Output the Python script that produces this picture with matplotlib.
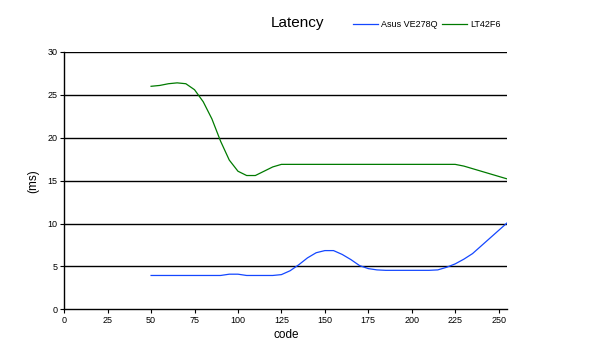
import matplotlib.pyplot as plt
import numpy as np

plt.rcParams["font.family"] = ["Liberation Sans", "DejaVu Sans"]

# data
codes = list(range(50, 256, 5))
asus_ve278q = [
    3.95, 3.95, 3.95, 3.95, 3.95, 3.95, 3.95, 3.95, 3.95, 4.1,
    4.1, 3.95, 3.95, 3.95, 3.95, 4.05, 4.5, 5.2, 6.0, 6.6,
    6.85, 6.85, 6.4, 5.8, 5.1, 4.75, 4.6, 4.55, 4.55, 4.55,
    4.55, 4.55, 4.55, 4.6, 4.9, 5.3, 5.85, 6.5, 7.4, 8.3,
    9.2, 10.1,
]
lt42f6 = [
    26.0, 26.1, 26.3, 26.4, 26.3, 25.6, 24.2, 22.2, 19.6, 17.4,
    16.1, 15.6, 15.6, 16.1, 16.6, 16.9, 16.9, 16.9, 16.9, 16.9,
    16.9, 16.9, 16.9, 16.9, 16.9, 16.9, 16.9, 16.9, 16.9, 16.9,
    16.9, 16.9, 16.9, 16.9, 16.9, 16.9, 16.7, 16.4, 16.1, 15.8,
    15.5, 15.2,
]
x_ticks = list(range(0, 251, 25))
y_ticks = list(range(0, 31, 5))


def main():
    fig = plt.figure(figsize=(6.0, 3.56), dpi=100)
    ax = fig.add_axes([0.107, 0.131, 0.7385, 0.723])

    for y in y_ticks[1:]:
        ax.axhline(y, color="black", lw=1.0, zorder=1)

    ax.plot(codes, asus_ve278q, color="#1447ff", lw=0.9, label="Asus VE278Q", zorder=3)
    ax.plot(codes, lt42f6, color="#007a00", lw=0.9, label="LT42F6", zorder=3)

    ax.set_xlim(0, 255)
    ax.set_ylim(0, 30)
    ax.set_xticks(x_ticks)
    ax.set_yticks(y_ticks)
    ax.tick_params(labelsize=6.5, length=3, width=0.8, pad=2)

    for side in ("top", "right"):
        ax.spines[side].set_visible(False)
    for side in ("left", "bottom"):
        ax.spines[side].set_linewidth(1.0)

    ax.set_xlabel("code", fontsize=8.5, labelpad=3)
    ax.set_ylabel("(ms)", fontsize=8.5, labelpad=6)

    fig.text(0.495, 0.935, "Latency", fontsize=11, ha="center", va="center")
    fig.legend(
        loc="center left",
        bbox_to_anchor=(0.575, 0.93),
        ncol=2,
        frameon=False,
        fontsize=6.5,
        handlelength=2.8,
        handletextpad=0.3,
        columnspacing=0.5,
    )

    fig.savefig("out.png", dpi=100)


if __name__ == "__main__":
    main()
